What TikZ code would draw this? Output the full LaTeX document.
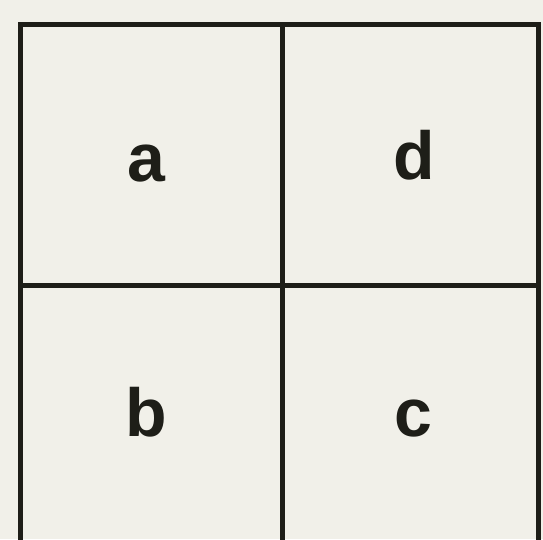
\documentclass[tikz,border=0pt]{standalone}
\usepackage{fontspec}
\setmainfont{Liberation Sans}
\definecolor{paper}{HTML}{F1F0E9}
\definecolor{ink}{HTML}{1E1E18}
\begin{document}
\begin{tikzpicture}[x=1pt,y=-1pt,
  gridline/.style={draw=ink,line width=5pt},
  letter/.style={anchor=base,inner sep=0pt,text=ink,font=\bfseries\fontsize{68}{68}\selectfont}]
\fill[paper] (0,0) rectangle (543,539);
\useasboundingbox (0,0) rectangle (543,539);
\coordinate (tl) at (20,24);
\coordinate (tr) at (538,24);
\coordinate (bl) at (20,560);
\coordinate (br) at (538,560);
\coordinate (mt) at (282,24);
\coordinate (mb) at (282,560);
\coordinate (ml) at (20,285);
\coordinate (mr) at (538,285);
\begin{scope}
\clip (0,0) rectangle (543,539);
\draw[gridline] (bl) -- (tl) -- (tr) -- (br);
\draw[gridline] (mt) -- (mb);
\draw[gridline] (ml) -- (mr);
\end{scope}
\node[letter] (a) at (146,181) {a};
\node[letter] (d) at (414,179) {d};
\node[letter] (b) at (146,436) {b};
\node[letter] (c) at (413,436) {c};
\end{tikzpicture}
\end{document}
